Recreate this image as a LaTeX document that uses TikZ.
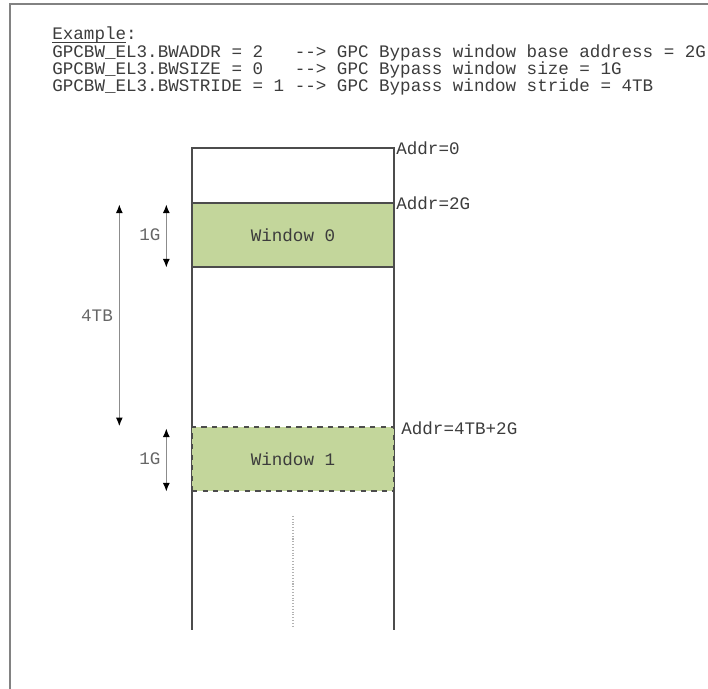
\documentclass[tikz,border=0pt]{standalone}
\usepackage{fontspec}
\setmonofont{Liberation Mono}
\usepackage{tikz}
\usetikzlibrary{arrows.meta,positioning}
\definecolor{windowgreen}{RGB}{195,214,155}
\definecolor{inktext}{RGB}{60,60,60}
\definecolor{framegray}{RGB}{130,130,130}
\tikzset{
  codetext/.style={anchor=base west, inner sep=0pt, font=\ttfamily\fontsize{10}{11}\selectfont, text=inktext},
  addrlabel/.style={codetext, anchor=west},
  sizelabel/.style={inner sep=0pt, font=\ttfamily\fontsize{10}{11}\selectfont, text=black!60},
  winbox/.style={rectangle, draw=black!70, line width=0.8pt, fill=windowgreen, minimum width=4.04cm, minimum height=1.28cm, font=\ttfamily\fontsize{10}{11}\selectfont, text=inktext},
  sizearrow/.style={{Latex[length=5pt,width=4pt,black]}-{Latex[length=5pt,width=4pt,black]}, draw=black!45, line width=0.8pt},
  memline/.style={draw=black!70, line width=0.9pt},
  framepath/.style={draw=framegray, line width=1pt}
}
\begin{document}
\begin{tikzpicture}[x=0.02cm, y=-0.02cm]
  \useasboundingbox (0,0) rectangle (708,689);
  \draw[framepath] (10,689) -- (10,4) -- (708,4);
  % register settings
  \node[codetext] (hdr) at (52,40) {Example:};
  \draw[inktext, line width=0.5pt] ([yshift=-0.05cm]hdr.base west) -- ++(73.5,0);
  \node[codetext] (reg0) at (52,58) {GPCBW\_EL3.BWADDR = 2~~~--> GPC Bypass window base address = 2G};
  \node[codetext] (reg1) at (52,75) {GPCBW\_EL3.BWSIZE = 0~~~--> GPC Bypass window size = 1G};
  \node[codetext] (reg2) at (52,92) {GPCBW\_EL3.BWSTRIDE = 1 --> GPC Bypass window stride = 4TB};
  % address space
  \draw[memline] (192,630) -- (192,148) -- (394,148) -- (394,630);
  \draw[densely dotted, black!30, line width=0.6pt] (293,516) -- (293,628);
  \node[winbox] (win0) at (293,235) {Window 0};
  \node[winbox, dashed] (win1) at (293,459) {Window 1};
  \node[addrlabel] (addr0) at (396,148) {Addr=0};
  \node[addrlabel] (addr1) at (396,203) {Addr=2G};
  \node[addrlabel] (addr2) at (401,428) {Addr=4TB+2G};
  % sizes
  \draw[sizearrow] ([xshift=-0.5cm, yshift=-0.04cm]win0.north west) -- ([xshift=-0.5cm]win0.south west);
  \draw[sizearrow] ([xshift=-0.5cm, yshift=-0.04cm]win1.north west) -- ([xshift=-0.5cm]win1.south west);
  \draw[sizearrow] ([xshift=-1.44cm, yshift=-0.04cm]win0.north west) -- ([xshift=-1.44cm]win1.north west);
  \node[sizelabel] (g0) at (150,235) {1G};
  \node[sizelabel] (g1) at (150,459) {1G};
  \node[sizelabel] (tb) at (97,316) {4TB};
\end{tikzpicture}
\end{document}
